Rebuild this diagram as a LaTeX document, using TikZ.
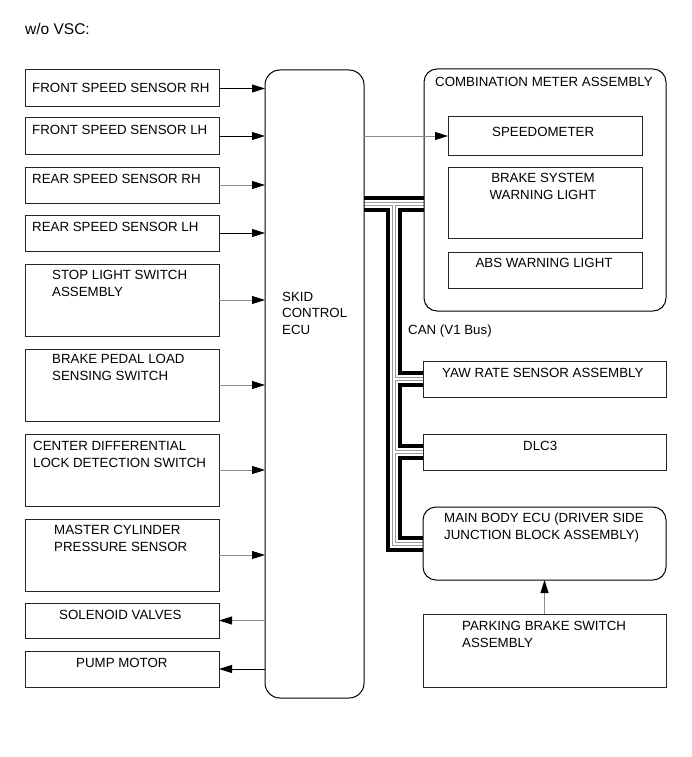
\documentclass[tikz,border=0pt]{standalone}
\usepackage{fontspec}
\setmainfont{Liberation Sans}
\usetikzlibrary{arrows.meta,backgrounds}
\begin{document}
\begin{tikzpicture}[x=1pt,y=-1pt,
  box/.style={draw=black!85, line width=1pt, anchor=north west, inner sep=0pt, outer sep=0pt},
  rbox/.style={box, draw=black, rounded corners=13pt},
  lbl/.style={anchor=base west, inner sep=0pt, font=\fontsize{13.3}{16.2}\selectfont, align=left},
  clbl/.style={anchor=base, inner sep=0pt, font=\fontsize{13.3}{16.2}\selectfont, align=center},
  arr/.style={-{Triangle[length=13pt,width=8pt,color=black]}, line width=0.8pt},
  garr/.style={arr, draw=black!45}
]
\useasboundingbox (0,0) rectangle (691,757);

\node[lbl, font=\fontsize{15.5}{18}\selectfont] (title) at (25,35) {w/o VSC:};

% left boxes
\node[box, minimum width=194pt, minimum height=37pt] (fsr) at (25,70) {};
\node[box, minimum width=194pt, minimum height=36pt] (fsl) at (25,118) {};
\node[box, minimum width=194pt, minimum height=36pt] (rsr) at (25,167) {};
\node[box, minimum width=194pt, minimum height=36pt] (rsl) at (25,215) {};
\node[box, minimum width=194pt, minimum height=72pt] (stop) at (25,264) {};
\node[box, minimum width=194pt, minimum height=72pt] (brk) at (25,349) {};
\node[box, minimum width=194pt, minimum height=72pt] (cdl) at (25,434) {};
\node[box, minimum width=194pt, minimum height=72pt] (mcp) at (25,519) {};
\node[box, minimum width=194pt, minimum height=35pt] (sol) at (25,603) {};
\node[box, minimum width=194pt, minimum height=36pt] (pump) at (25,651) {};

% text nodes: multi-line nodes are placed at the baseline of their last line
\node[lbl] (tfsr) at (32,93) {FRONT SPEED SENSOR RH};
\node[lbl] (tfsl) at (32,135) {FRONT SPEED SENSOR LH};
\node[lbl] (trsr) at (32,183) {REAR SPEED SENSOR RH};
\node[lbl] (trsl) at (32,231) {REAR SPEED SENSOR LH};
\node[lbl] (tstop) at (52,296) {STOP LIGHT SWITCH\\ASSEMBLY};
\node[lbl] (tbrk) at (52,380) {BRAKE PEDAL LOAD\\SENSING SWITCH};
\node[lbl] (tcdl) at (33,467) {CENTER DIFFERENTIAL\\LOCK DETECTION SWITCH};
\node[lbl] (tmcp) at (54,551) {MASTER CYLINDER\\PRESSURE SENSOR};
\node[lbl] (tsol) at (59,619) {SOLENOID VALVES};
\node[lbl] (tpump) at (76,667) {PUMP MOTOR};

% ECU
\node[box, draw=black, rounded corners=15pt, minimum width=99pt, minimum height=628pt] (ecu) at (265,70) {};
\node[lbl] (tecu) at (282,334) {SKID\\CONTROL\\ECU};

% combination meter
\node[rbox, minimum width=242pt, minimum height=242pt] (meter) at (424,69) {};
\node[lbl] (tmeter) at (435,87) {COMBINATION METER ASSEMBLY};
\node[box, minimum width=194pt, minimum height=38pt] (speedo) at (448,117) {};
\node[lbl] (tspeedo) at (492,136) {SPEEDOMETER};
\node[box, minimum width=194pt, minimum height=71pt] (bsw) at (448,167) {};
\node[clbl] (tbsw) at (543,199) {BRAKE SYSTEM\\WARNING LIGHT};
\node[box, minimum width=194pt, minimum height=36pt] (abs) at (448,252) {};
\node[clbl] (tabs) at (544,267) {ABS WARNING LIGHT};

\node[lbl] (can) at (408,334) {CAN (V1 Bus)};

% right column
\node[box, minimum width=243pt, minimum height=36pt] (yaw) at (423,361) {};
\node[lbl] (tyaw) at (442,377) {YAW RATE SENSOR ASSEMBLY};
\node[box, minimum width=243pt, minimum height=36pt] (dlc) at (423,434) {};
\node[lbl] (tdlc) at (523,450) {DLC3};
\node[rbox, minimum width=243pt, minimum height=73pt] (main) at (423,507) {};
\node[lbl] (tmain) at (444,539) {MAIN BODY ECU (DRIVER SIDE\\JUNCTION BLOCK ASSEMBLY)};
\node[box, minimum width=243pt, minimum height=73pt] (park) at (423,614) {};
\node[lbl] (tpark) at (462,647) {PARKING BRAKE SWITCH\\ASSEMBLY};

% arrows into / out of ECU
\draw[arr] (fsr.east) -- (fsr.east -| ecu.west);
\draw[arr] (fsl.east) -- (fsl.east -| ecu.west);
\draw[garr] (rsr.east) -- (rsr.east -| ecu.west);
\draw[arr] (rsl.east) -- (rsl.east -| ecu.west);
\draw[garr] (stop.east) -- (stop.east -| ecu.west);
\draw[garr] (brk.east) -- (brk.east -| ecu.west);
\draw[garr] (cdl.east) -- (cdl.east -| ecu.west);
\draw[garr] (mcp.east) -- (mcp.east -| ecu.west);
\draw[garr] (sol.east -| ecu.west) -- (sol.east);
\draw[arr] (pump.east -| ecu.west) -- (pump.east);
\draw[garr] (speedo.west -| ecu.east) -- (speedo.west);
\draw[garr] (park.north) -- (main.south);

% CAN bus (double line)
\coordinate (bt) at (393.5,203.5);
\begin{pgfonlayer}{background}
\foreach \w/\c in {16/black,8/white,4/black!40,2/white}{
  \draw[line width=\w pt, draw=\c] (ecu.east |- bt) -- (meter.west |- bt);
  \draw[line width=\w pt, draw=\c, line join=miter] (bt) -- (bt |- main.west) -- (main.west);
  \draw[line width=\w pt, draw=\c] (bt |- yaw.west) -- (yaw.west);
  \draw[line width=\w pt, draw=\c] (bt |- dlc.west) -- (dlc.west);
}
\end{pgfonlayer}
\end{tikzpicture}
\end{document}
